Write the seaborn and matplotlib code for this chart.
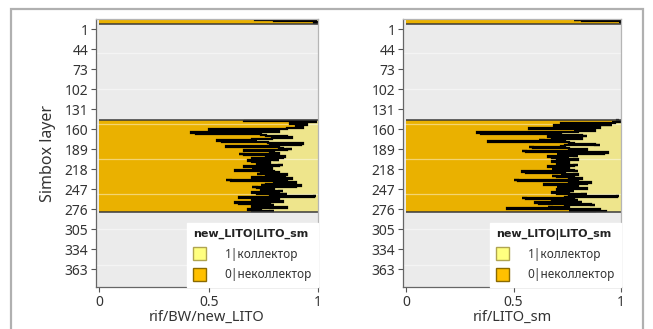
import numpy as np
import pandas as pd
import matplotlib.pyplot as plt
import seaborn as sns
from matplotlib.patches import Patch, Rectangle
from matplotlib.font_manager import FontProperties

# Simbox layers with data (upper thin block and main block)
top_layers = list(range(1, 8))
mid_layers = list(range(147, 281))

# share of "0|неколлектор" per layer, left panel (rif/BW/new_LITO)
bw_top = [0.71, 0.82, 0.80, 0.99, 1.0, 1.0, 0.98]
bw_mid = [0.66, 0.66, 0.99, 0.98, 0.87, 0.87, 0.95, 0.94, 0.90, 0.90,
          0.92, 0.93, 0.86, 0.84, 0.50, 0.52, 0.80, 0.82, 0.42, 0.44,
          0.72, 0.74, 0.76, 0.84, 0.86, 0.88, 0.80, 0.79, 0.70, 0.72,
          0.54, 0.56, 0.75, 0.77, 0.93, 0.92, 0.80, 0.78, 0.58, 0.60,
          0.82, 0.84, 0.88, 0.86, 0.66, 0.68, 0.78, 0.80, 0.82, 0.64,
          0.66, 0.76, 0.78, 0.85, 0.84, 0.72, 0.70, 0.80, 0.82, 0.68,
          0.70, 0.76, 0.78, 0.74, 0.72, 0.84, 0.82, 0.66, 0.68, 0.77,
          0.79, 0.70, 0.72, 0.62, 0.64, 0.80, 0.82, 0.74, 0.72, 0.86,
          0.85, 0.78, 0.76, 0.70, 0.72, 0.88, 0.86, 0.58, 0.60, 0.80,
          0.82, 0.90, 0.88, 0.76, 0.74, 0.92, 0.90, 0.70, 0.72, 0.80,
          0.78, 0.74, 0.76, 0.84, 0.82, 0.70, 0.72, 0.86, 0.84, 0.78,
          0.99, 0.98, 0.64, 0.66, 0.80, 0.82, 0.72, 0.70, 0.84, 0.82,
          0.62, 0.64, 0.78, 0.80, 0.72, 0.70, 0.84, 0.86, 0.74, 0.72,
          0.68, 0.70, 0.80, 0.78]

# right panel (rif/LITO_sm)
sm_top = [0.80, 0.78, 0.82, 1.0, 0.99, 1.0, 1.0]
sm_mid = [0.99, 0.98, 1.0, 0.96, 0.97, 0.72, 0.74, 0.96, 0.69, 0.70,
          0.88, 0.90, 0.57, 0.58, 0.86, 0.88, 0.78, 0.80, 0.33, 0.35,
          0.70, 0.72, 0.82, 0.84, 0.66, 0.68, 0.80, 0.82, 0.74, 0.62,
          0.64, 0.38, 0.40, 0.76, 0.78, 0.88, 0.90, 0.74, 0.72, 0.57,
          0.59, 0.76, 0.78, 0.84, 0.82, 0.54, 0.56, 0.94, 0.92, 0.70,
          0.72, 0.78, 0.80, 0.66, 0.68, 0.76, 0.74, 0.80, 0.78, 0.70,
          0.68, 0.74, 0.76, 0.70, 0.72, 0.80, 0.78, 0.66, 0.68, 0.74,
          0.76, 0.68, 0.70, 0.78, 0.80, 0.54, 0.56, 0.74, 0.72, 0.80,
          0.78, 0.68, 0.70, 0.76, 0.78, 0.82, 0.80, 0.50, 0.52, 0.76,
          0.78, 0.86, 0.84, 0.64, 0.66, 0.78, 0.80, 0.70, 0.72, 0.84,
          0.82, 0.70, 0.72, 0.78, 0.76, 0.68, 0.70, 0.84, 0.82, 0.76,
          0.99, 0.98, 0.74, 0.54, 0.56, 0.78, 0.80, 0.68, 0.70, 0.82,
          0.60, 0.62, 0.86, 0.88, 0.74, 0.76, 0.66, 0.68, 0.47, 0.49,
          0.90, 0.88, 0.76, 0.93]

ytick_labels = ["1", "44", "73", "102", "131", "160", "189", "218",
                "247", "276", "305", "334", "363"]
xtick_labels = ["0", "0.5", "1"]
legend_labels = ["1|коллектор", "0|неколлектор"]

ORANGE = "#EAB100"
YELLOW = "#EEE58C"
BG = "#EBEBEB"


def draw_panel(ax, top_vals, mid_vals, xlabel):
    df = pd.DataFrame({"layer": top_layers + mid_layers,
                       "frac": top_vals + mid_vals})
    df["total"] = 1.0
    ax.set_facecolor(BG)
    sns.barplot(data=df, x="total", y="layer", orient="y", native_scale=True,
                width=1, color=YELLOW, saturation=1, linewidth=0,
                errorbar=None, antialiased=False, ax=ax)
    sns.barplot(data=df, x="frac", y="layer", orient="y", native_scale=True,
                width=1, color=ORANGE, saturation=1, linewidth=0,
                errorbar=None, antialiased=False, ax=ax)

    # faint horizontal grid
    for gy in [50, 102, 153, 203, 254, 305, 357]:
        ax.axhline(gy, color="white", alpha=0.45, lw=0.9, zorder=1.5)

    # boundary between classes + block outlines
    for layers, vals in [(top_layers, top_vals), (mid_layers, mid_vals)]:
        edges = np.arange(layers[0] - 0.5, layers[-1] + 1.0, 1.0)
        ax.stairs(vals, edges, orientation="horizontal", baseline=None,
                  color="black", lw=1.6, zorder=2)
        ax.hlines([edges[0], edges[-1]], 0, 1, color="#3a3a3a", lw=1.1, zorder=2)

    ax.set_xlim(-0.015, 1.0)
    ax.set_ylim(389, 0.5)
    ax.set_xticks([0, 0.5, 1], xtick_labels)
    ax.set_yticks([15] + list(range(44, 364, 29)), ytick_labels)
    ax.tick_params(axis="both", length=3.5, width=0.8, color="#555555",
                   labelsize=10, labelcolor="#333333", pad=2)
    ax.tick_params(axis="y", left=True)
    ax.tick_params(axis="x", bottom=True, pad=2)
    for side in ["left", "bottom"]:
        ax.spines[side].set_color("#666666")
        ax.spines[side].set_linewidth(0.9)
    for side in ["top", "right"]:
        ax.spines[side].set_color("#b5b5b5")
        ax.spines[side].set_linewidth(0.9)
    ax.set_xlabel(xlabel, fontsize=10.5, color="#333333", labelpad=0)
    ax.set_ylabel("")

    handles = [Patch(facecolor="#FFFF80", edgecolor="#B0A550", label=legend_labels[0]),
               Patch(facecolor="#FFC000", edgecolor="#8A6A00", label=legend_labels[1])]
    leg = ax.legend(handles=handles, title="new_LITO|LITO_sm", loc="lower right",
                    bbox_to_anchor=(1.0, 0.0), borderaxespad=0, frameon=True,
                    fancybox=False, framealpha=1, facecolor="white",
                    edgecolor="white", fontsize=8.5, handlelength=1.1,
                    handleheight=1.3, handletextpad=1.6, labelspacing=0.6,
                    borderpad=0.5, alignment="left",
                    title_fontproperties=FontProperties(family="DejaVu Sans",
                                                        weight="bold", size=8))
    for t in leg.get_texts():
        t.set_color("#333333")
    leg.get_title().set_color("#222222")


sns.set_style("white")
plt.rcParams["font.family"] = ["Noto Sans", "DejaVu Sans"]

fig = plt.figure(figsize=(6.53, 3.29), dpi=100)
ax1 = fig.add_axes([96 / 653, 1 - 287 / 329, 222 / 653, 268 / 329])
ax2 = fig.add_axes([403 / 653, 1 - 287 / 329, 218 / 653, 268 / 329])

draw_panel(ax1, bw_top, bw_mid, "rif/BW/new_LITO")
draw_panel(ax2, sm_top, sm_mid, "rif/LITO_sm")
ax1.set_ylabel("Simbox layer", fontsize=11.5, color="#333333", labelpad=6)

# card border around the figure
fig.patches.append(Rectangle((11 / 653, -0.05), 632 / 653, 1.05 - 9 / 329,
                             transform=fig.transFigure, fill=False,
                             edgecolor="#b0b0b0", lw=1.6))

fig.savefig("out.png", dpi=100)
